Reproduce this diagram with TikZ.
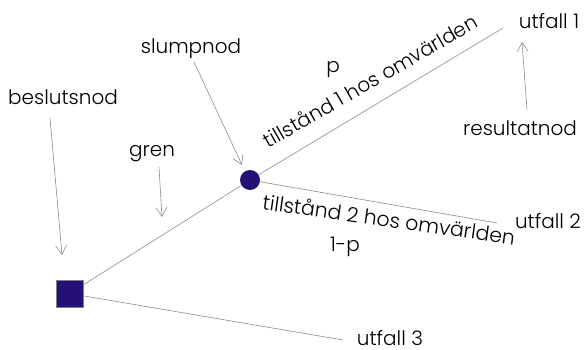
\documentclass[tikz,border=0pt]{standalone}
\usepackage{fontspec}
\setmainfont{Poppins Light}
\usetikzlibrary{arrows.meta}

\definecolor{nodfarg}{RGB}{36,16,118}

\begin{document}
\begin{tikzpicture}[
      x=1pt, y=-1pt,
      lbl/.style={font=\fontsize{20}{24}\selectfont, inner sep=0pt},
      gren/.style={draw=black!45, line width=0.6pt},
      pil/.style={draw=black!45, line width=0.6pt, -{Straight Barb[length=9pt,width=11pt]}},
      beslut/.style={draw=black!50, fill=nodfarg, minimum size=27pt, inner sep=0pt},
      slump/.style={circle, fill=nodfarg, minimum size=20pt, inner sep=0pt}
  ]
    \useasboundingbox (0,0) rectangle (586,350);
    % noder
    \node[beslut] (bn) at (69.5,293.5) {};
    \node[slump] (sn) at (250,180) {};
    % grenarnas ytterändar
    \coordinate (e1) at (503,28);
    \coordinate (e2) at (497,223);
    \coordinate (e3) at (343,340);
    \draw[gren] (bn) -- (sn);
    \draw[gren] (sn) -- (e1);
    \draw[gren] (sn) -- (e2);
    \draw[gren] (bn) -- (e3);
    % texter
    \node[lbl] (tbeslut) at (63,97.5) {beslutsnod};
    \node[lbl] (tgren) at (152,154) {gren};
    \node[lbl] (tslump) at (191,49) {slumpnod};
    \node[lbl] (tp) at (333,69.5) {p};
    \node[lbl, rotate=30] (tt1) at (370,80.5) {tillstånd 1 hos omvärlden};
    \node[lbl, font=\fontsize{20.4}{24}\selectfont, rotate=-8] (tt2) at (389,219) {tillstånd 2 hos omvärlden};
    \node[lbl] (tq) at (345,247) {1-p};
    \node[lbl] (tu1) at (549,21) {utfall 1};
    \node[lbl] (tu2) at (548,221) {utfall 2};
    \node[lbl] (tu3) at (390,338.5) {utfall 3};
    \node[lbl] (tres) at (520,128) {resultatnod};
    % pilar
    \coordinate (b0) at (50,118);   \coordinate (b1) at (62,255);
    \coordinate (g0) at (159,167);  \coordinate (g1) at (162,217);
    \coordinate (s0) at (194,62);   \coordinate (s1) at (242,165);
    \coordinate (r0) at (527,110);  \coordinate (r1) at (522,42);
    \draw[pil] (b0) -- (b1);
    \draw[pil] (g0) -- (g1);
    \draw[pil] (s0) -- (s1);
    \draw[pil] (r0) -- (r1);
\end{tikzpicture}
\end{document}
